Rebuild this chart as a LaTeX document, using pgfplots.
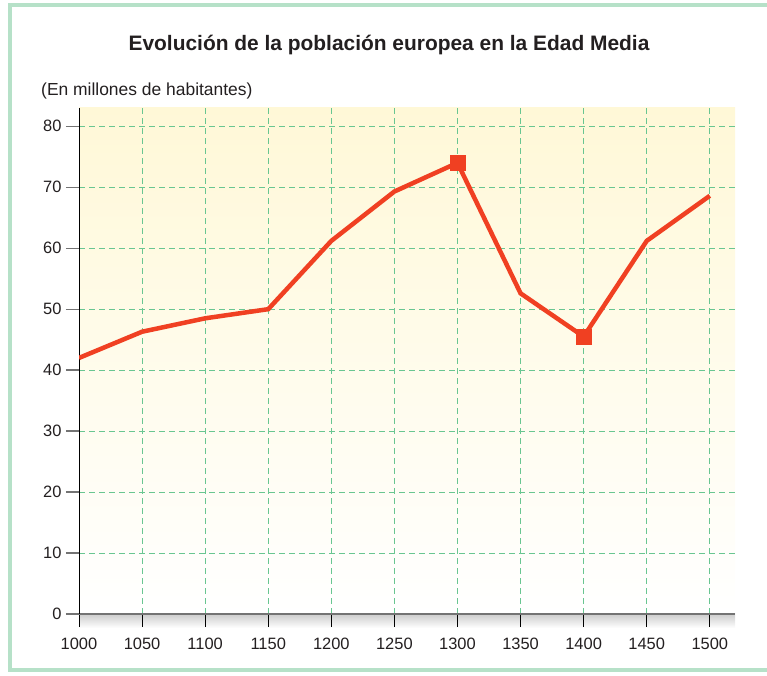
\documentclass[border=0pt]{standalone}
\usepackage{fontspec}
\setmainfont{Liberation Sans}
\usepackage{pgfplots}
\pgfplotsset{compat=1.18}
\definecolor{framegreen}{RGB}{182,225,200}
\definecolor{gridg}{RGB}{105,198,145}
\definecolor{linered}{RGB}{240,64,34}
\definecolor{bgyellow}{RGB}{255,248,215}
\definecolor{txt}{RGB}{35,31,32}
\pgfplotstableread{
year pop
1000 42.0
1050 46.3
1100 48.5
1150 50.0
1200 61.2
1250 69.3
1300 74.0
1350 52.6
1400 45.5
1450 61.2
1500 68.6
}\poptable
\begin{document}
\begin{tikzpicture}[x=1bp,y=1bp]
\useasboundingbox (0,0) rectangle (767,676);
\draw[framegreen, line width=4bp] (769,671) -- (10,671) -- (10,6) -- (769,6);
\node[font=\bfseries\fontsize{21}{25}\selectfont, text=txt] at (389,631) {Evolución de la población europea en la Edad Media};
\node[anchor=base west, font=\fontsize{17.5}{20}\selectfont, text=txt, inner sep=0pt] at (41,580) {(En millones de habitantes)};
\fill[top color=gray!40, bottom color=white] (79,48) rectangle (735,62);
\begin{axis}[
  at={(79bp,62bp)}, anchor=south west,
  scale only axis, width=656bp, height=506bp,
  xmin=1000, xmax=1520, ymin=0, ymax=83,
  axis x line=bottom, axis y line=left,
  axis line style={-},
  x axis line style={black!55, line width=2.5bp},
  y axis line style={black, line width=0.9bp},
  xtick={1000,1050,...,1500}, ytick={0,10,...,80},
  tick align=outside, major tick length=13bp,
  xtick style={black, line width=0.9bp},
  ytick style={black!55, line width=1.3bp},
  grid=major,
  major grid style={gridg, line width=1bp, dash pattern=on 6bp off 4bp},
  axis background/.style={top color=bgyellow, middle color=white, bottom color=white},
  tick label style={font=\fontsize{16.5}{19}\selectfont, text=txt},
  /pgf/number format/assume math mode=true,
  /pgf/number format/1000 sep={},
  xticklabel style={yshift=-8bp},
  yticklabel style={xshift=-1bp},
]
\addplot[linered, line width=4.5bp] table[x=year, y=pop] {\poptable};
\addplot[only marks, mark=square*, mark size=7.3bp, linered] coordinates {(1300,74.0) (1400,45.5)};
\end{axis}
\end{tikzpicture}
\end{document}
